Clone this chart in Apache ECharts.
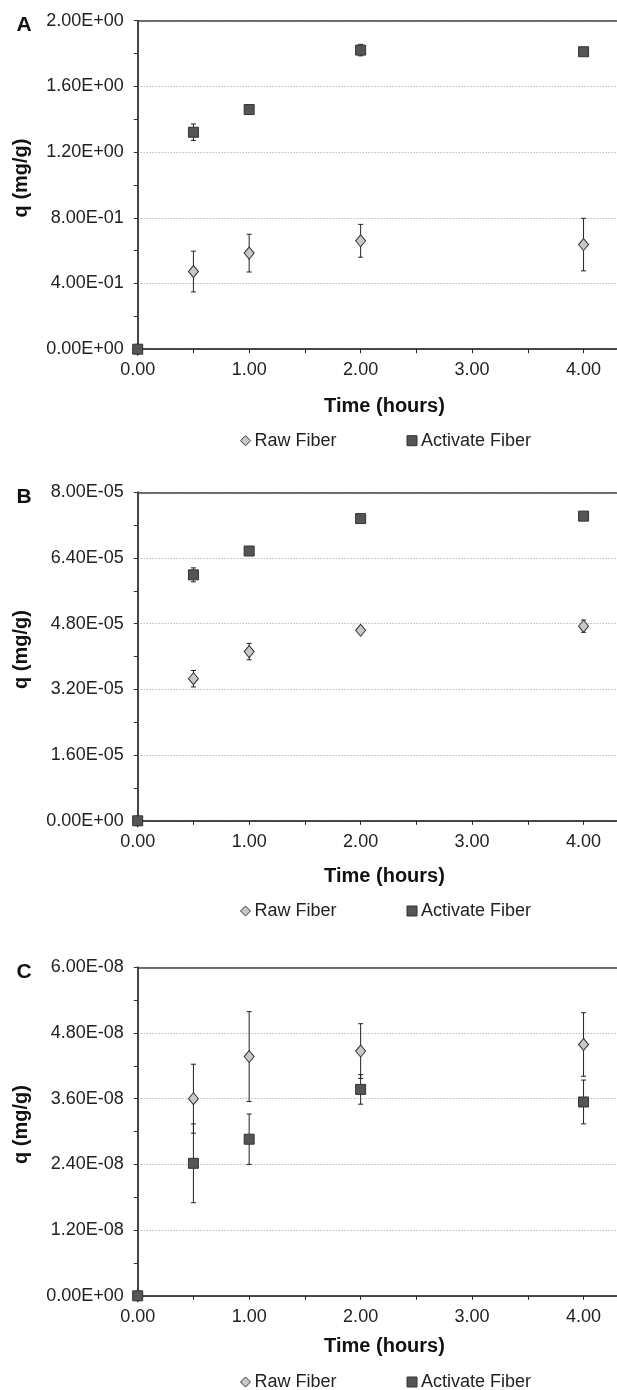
<!DOCTYPE html>
<html>
<head>
<meta charset="utf-8">
<script src="https://cdn.jsdelivr.net/npm/echarts@6/dist/echarts.min.js"></script>
<style>
html,body{margin:0;padding:0;background:#fff;}
#chart{width:617px;height:1390px;}
</style>
</head>
<body>
<div id="chart"></div>
<script>
// ---- data ----
const seriesNames = ['Raw Fiber', 'Activate Fiber'];
const timeHours = [0, 0.5, 1, 2, 4];
const xTickValues = [0, 0.5, 1, 1.5, 2, 2.5, 3, 3.5, 4];
const xLabelValues = [0, 1, 2, 3, 4];

// Panel A
const rawA = [0, 0.473, 0.585, 0.660, 0.637];
const rawAErr = [0, 0.124, 0.115, 0.100, 0.160];
const actA = [0, 1.321, 1.459, 1.821, 1.811];
const actAErr = [0, 0.050, 0.010, 0.035, 0.010];
// Panel B
const rawB = [0, 3.46e-5, 4.12e-5, 4.64e-5, 4.74e-5];
const rawBErr = [0, 2.0e-6, 2.0e-6, 0.4e-6, 1.5e-6];
const actB = [0, 5.99e-5, 6.57e-5, 7.36e-5, 7.42e-5];
const actBErr = [0, 1.7e-6, 0.4e-6, 0.4e-6, 0.4e-6];
// Panel C
const rawC = [0, 3.60e-8, 4.37e-8, 4.47e-8, 4.59e-8];
const rawCErr = [0, 6.3e-9, 8.2e-9, 5.0e-9, 5.8e-9];
const actC = [0, 2.42e-8, 2.86e-8, 3.77e-8, 3.54e-8];
const actCErr = [0, 7.2e-9, 4.6e-9, 2.7e-9, 4.0e-9];

// y axis extents
const yMax = [2.0, 8.0e-5, 6.0e-8];
const yInterval = [0.4, 1.6e-5, 1.2e-8];
const panelLetters = ['A', 'B', 'C'];

// ---- layout ----
const gridTops = [20.7, 492.3, 967.3];
const gridH = 328.5;
const gridLeft = 137.7;
const xMax = 4.3;

function sci(v) {
  if (Math.abs(v) < 1e-20) return '0.00E+00';
  const s = v.toExponential(2);
  const parts = s.split('e');
  const ex = parseInt(parts[1], 10);
  const sign = ex < 0 ? '-' : '+';
  const n = Math.abs(ex);
  return parts[0] + 'E' + sign + (n < 10 ? '0' + n : '' + n);
}

function pairs(ys, errs) {
  return timeHours.map((t, i) => [t, ys[i], errs[i]]);
}

function errRender(params, api) {
  const x = api.value(0), y = api.value(1), e = api.value(2);
  if (!e) return null;
  const top = api.coord([x, y + e]);
  const bot = api.coord([x, y - e]);
  const c = 2.5;
  const st = { stroke: '#222', lineWidth: 1 };
  return {
    type: 'group',
    children: [
      { type: 'line', shape: { x1: top[0], y1: top[1], x2: bot[0], y2: bot[1] }, style: st },
      { type: 'line', shape: { x1: top[0] - c, y1: top[1], x2: top[0] + c, y2: top[1] }, style: st },
      { type: 'line', shape: { x1: bot[0] - c, y1: bot[1], x2: bot[0] + c, y2: bot[1] }, style: st }
    ]
  };
}

const panels = [
  { raw: rawA, rawErr: rawAErr, act: actA, actErr: actAErr },
  { raw: rawB, rawErr: rawBErr, act: actB, actErr: actBErr },
  { raw: rawC, rawErr: rawCErr, act: actC, actErr: actCErr }
];

const grids = [], xAxes = [], yAxes = [], series = [], legends = [], graphics = [];
const font = 'Liberation Sans, Arial, sans-serif';

panels.forEach((p, i) => {
  grids.push({ left: gridLeft, right: 0, top: gridTops[i], height: gridH });
  xAxes.push({
    type: 'value', gridIndex: i, min: 0, max: xMax,
    axisLine: { show: true, onZero: false, lineStyle: { color: '#111', width: 1.5 } },
    axisTick: { show: true, length: 4, customValues: xTickValues, lineStyle: { color: '#222' } },
    axisLabel: {
      customValues: xLabelValues, margin: 12, fontSize: 18, color: '#222', fontFamily: font,
      formatter: v => v.toFixed(2)
    },
    splitLine: { show: false }
  });
  xAxes.push({
    type: 'value', gridIndex: i, position: 'top', min: 0, max: xMax,
    axisLine: { show: true, onZero: false, lineStyle: { color: '#444', width: 1.5 } },
    axisTick: { show: false }, axisLabel: { show: false }, splitLine: { show: false }
  });
  yAxes.push({
    type: 'value', gridIndex: i, min: 0, max: yMax[i], interval: yInterval[i],
    axisLine: { show: true, onZero: false, lineStyle: { color: '#444', width: 2 } },
    axisTick: { show: true, length: 4, lineStyle: { color: '#333' } },
    minorTick: { show: true, splitNumber: 2, length: 4, lineStyle: { color: '#333' } },
    axisLabel: { margin: 14, fontSize: 18, color: '#222', fontFamily: font, formatter: sci },
    splitLine: { show: true, lineStyle: { color: '#999', type: [1, 2], width: 1 } }
  });
  const xi = i * 2;
  series.push({
    type: 'custom', name: 'err-raw-' + i, xAxisIndex: xi, yAxisIndex: i, z: 1,
    renderItem: errRender, data: pairs(p.raw, p.rawErr), encode: { x: 0, y: 1 }, silent: true
  });
  series.push({
    type: 'custom', name: 'err-act-' + i, xAxisIndex: xi, yAxisIndex: i, z: 1,
    renderItem: errRender, data: pairs(p.act, p.actErr), encode: { x: 0, y: 1 }, silent: true
  });
  series.push({
    type: 'scatter', name: seriesNames[0], xAxisIndex: xi, yAxisIndex: i, z: 3,
    symbol: 'diamond', symbolSize: [10, 12],
    itemStyle: { color: '#c8c8c8', borderColor: '#333', borderWidth: 1, opacity: 1 },
    data: timeHours.map((t, k) => [t, p.raw[k]])
  });
  series.push({
    type: 'scatter', name: seriesNames[1], xAxisIndex: xi, yAxisIndex: i, z: 4,
    symbol: 'rect', symbolSize: [10, 10],
    itemStyle: { color: '#555', borderColor: '#333', borderWidth: 1, opacity: 1 },
    data: timeHours.map((t, k) => [t, p.act[k]])
  });
});

const legendCenters = [441.7, 912, 1383];
legendCenters.forEach(c => {
  legends.push({
    data: [
      { name: seriesNames[0], icon: 'diamond', itemStyle: { color: '#c8c8c8', borderColor: '#333', borderWidth: 1 } },
      { name: seriesNames[1], icon: 'rect', itemStyle: { color: '#555', borderColor: '#333', borderWidth: 1 } }
    ],
    left: 240, top: c - 10, itemWidth: 10, itemHeight: 10, itemGap: 70,
    selectedMode: false, padding: 0,
    textStyle: { fontSize: 18, color: '#222', fontFamily: font, padding: [0, 0, 0, -1] }
  });
});

const titleCenters = [406.7, 876, 1346];
titleCenters.forEach(c => {
  graphics.push({
    type: 'text', x: 384.5, y: c,
    style: { text: 'Time (hours)', fontSize: 20, fontWeight: 'bold', fontFamily: font, fill: '#111', align: 'center', verticalAlign: 'middle' }
  });
});
gridTops.forEach((t, i) => {
  graphics.push({
    type: 'text', x: 21.7, y: t + gridH / 2 - 7, rotation: Math.PI / 2,
    style: { text: 'q (mg/g)', fontSize: 20, fontWeight: 'bold', fontFamily: font, fill: '#111', align: 'center', verticalAlign: 'middle' }
  });
  graphics.push({
    type: 'text', x: 24, y: t + 5,
    style: { text: panelLetters[i], fontSize: 21, fontWeight: 'bold', fontFamily: font, fill: '#111', align: 'center', verticalAlign: 'middle' }
  });
});

const chart = echarts.init(document.getElementById('chart'), null, { renderer: 'canvas' });
chart.setOption({
  animation: false,
  backgroundColor: '#fff',
  grid: grids,
  xAxis: xAxes,
  yAxis: yAxes,
  legend: legends,
  series: series,
  graphic: graphics
});
</script>
</body>
</html>
